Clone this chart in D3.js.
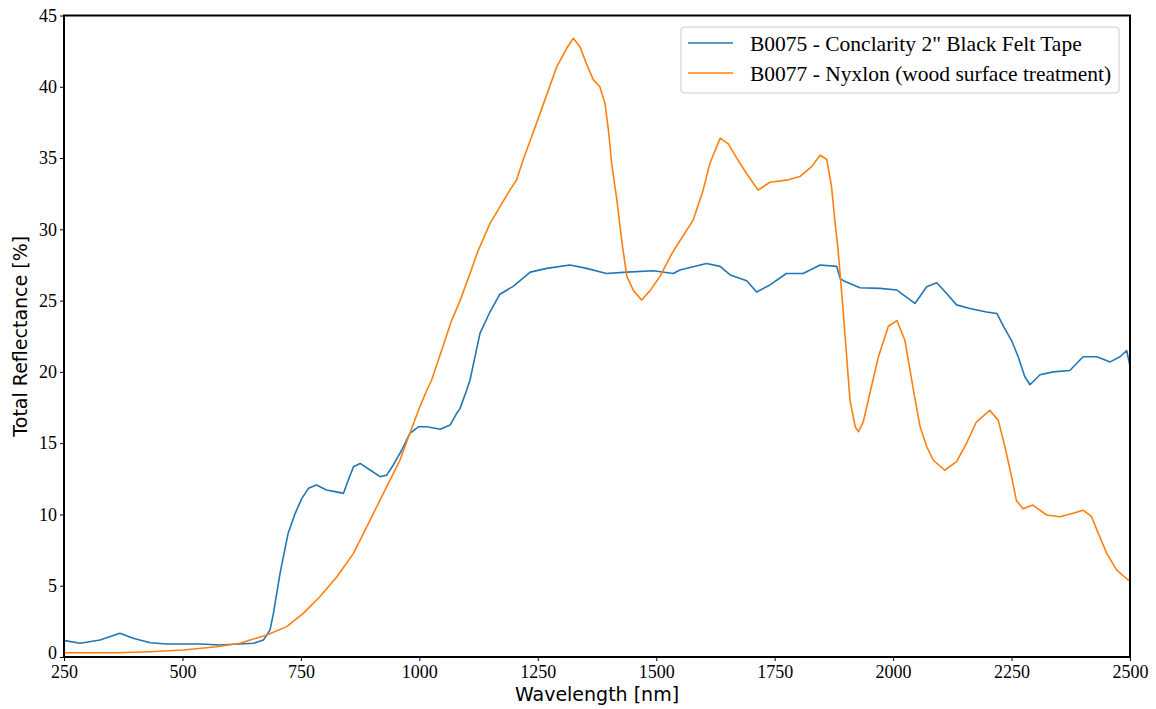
<!DOCTYPE html>
<html>
<head>
<meta charset="utf-8">
<script src="https://cdn.jsdelivr.net/npm/d3@7"></script>
<style>
  body { margin: 0; background: #fff; }
  .tick text { font-family: "Liberation Serif", "Times New Roman", serif; font-size: 18px; fill: #000; }
</style>
</head>
<body>
<div id="chartarea"></div>
<script>
// B0075 - Conclarity 2" Black Felt Tape
const blueWl = [252, 284, 326, 368, 396, 432, 467, 537, 579, 650, 671, 685, 692, 706, 723, 738, 752, 766, 783, 804, 822, 840, 850, 861, 875, 896, 917, 931, 945, 963, 980, 998, 1016, 1044, 1065, 1079, 1086, 1100, 1107, 1128, 1149, 1170, 1198, 1209, 1234, 1269, 1318, 1353, 1395, 1438, 1494, 1536, 1550, 1606, 1635, 1656, 1691, 1712, 1740, 1775, 1810, 1846, 1881, 1888, 1895, 1930, 1972, 2008, 2046, 2071, 2092, 2113, 2134, 2162, 2197, 2219, 2233, 2250, 2264, 2278, 2289, 2310, 2338, 2373, 2401, 2430, 2458, 2479, 2493, 2500];
const blueVal = [1.15, 0.96, 1.19, 1.66, 1.31, 1.0, 0.91, 0.91, 0.84, 0.96, 1.19, 1.9, 3.06, 5.87, 8.67, 10.08, 11.13, 11.83, 12.06, 11.71, 11.6, 11.48, 12.41, 13.35, 13.58, 13.12, 12.65, 12.76, 13.47, 14.52, 15.69, 16.15, 16.15, 15.97, 16.27, 17.1, 17.44, 18.73, 19.43, 22.7, 24.2, 25.45, 26.0, 26.3, 27.0, 27.26, 27.5, 27.26, 26.9, 27.0, 27.1, 26.9, 27.15, 27.6, 27.4, 26.8, 26.4, 25.6, 26.1, 26.9, 26.9, 27.5, 27.4, 26.56, 26.4, 25.9, 25.86, 25.74, 24.8, 25.97, 26.25, 25.5, 24.7, 24.45, 24.2, 24.1, 23.2, 22.2, 21.06, 19.66, 19.1, 19.8, 20.0, 20.1, 21.06, 21.06, 20.7, 21.06, 21.5, 20.4];

// B0077 - Nyxlon (wood surface treatment)
const orangeWl = [252, 361, 432, 502, 572, 621, 643, 678, 720, 755, 790, 826, 861, 896, 931, 959, 980, 1001, 1016, 1026, 1047, 1068, 1086, 1107, 1124, 1149, 1174, 1191, 1205, 1219, 1237, 1262, 1290, 1311, 1325, 1339, 1353, 1367, 1381, 1392, 1399, 1406, 1417, 1427, 1438, 1452, 1469, 1487, 1508, 1533, 1550, 1578, 1599, 1613, 1635, 1652, 1670, 1691, 1715, 1740, 1775, 1803, 1828, 1846, 1860, 1870, 1877, 1884, 1895, 1909, 1920, 1927, 1937, 1951, 1969, 1990, 2008, 2025, 2043, 2057, 2071, 2085, 2109, 2134, 2155, 2176, 2204, 2222, 2236, 2250, 2260, 2274, 2295, 2324, 2352, 2380, 2401, 2419, 2433, 2451, 2472, 2496, 2500];
const orangeVal = [0.3, 0.3, 0.37, 0.49, 0.72, 0.96, 1.19, 1.54, 2.13, 3.06, 4.23, 5.63, 7.27, 9.6, 11.94, 13.8, 15.69, 17.55, 18.73, 19.43, 21.5, 23.6, 25.0, 26.9, 28.5, 30.4, 31.8, 32.75, 33.45, 34.86, 36.5, 38.8, 41.4, 42.7, 43.4, 42.8, 41.6, 40.5, 40.0, 38.8, 37.0, 34.6, 32.05, 29.25, 26.7, 25.7, 25.04, 25.7, 26.7, 28.3, 29.2, 30.65, 32.75, 34.6, 36.4, 36.0, 35.0, 33.9, 32.75, 33.3, 33.45, 33.7, 34.4, 35.2, 34.9, 33.0, 30.65, 28.5, 24.1, 18.0, 16.15, 15.8, 16.5, 18.5, 21.06, 23.2, 23.6, 22.2, 18.7, 16.15, 14.75, 13.8, 13.1, 13.7, 15.0, 16.5, 17.3, 16.6, 14.75, 12.65, 11.0, 10.4, 10.66, 9.96, 9.84, 10.08, 10.3, 9.84, 8.67, 7.27, 6.1, 5.4, 5.5];

const xTicks = [250, 500, 750, 1000, 1250, 1500, 1750, 2000, 2250, 2500];
const yTicks = [0, 5, 10, 15, 20, 25, 30, 35, 40, 45];

const series = [
    { name: 'B0075 - Conclarity 2" Black Felt Tape', color: '#1f77b4', wl: blueWl, val: blueVal },
    { name: 'B0077 - Nyxlon (wood surface treatment)', color: '#ff7f0e', wl: orangeWl, val: orangeVal }
];

const margin = { top: 15.5, right: 26, bottom: 52, left: 64 };
const width = 1156 - margin.left - margin.right;
const height = 709 - margin.top - margin.bottom;

const svg = d3.select('#chartarea')
    .append('svg')
        .attr('width', 1156)
        .attr('height', 709);

const group = svg.append('g')
    .attr('transform', `translate(${margin.left}, ${margin.top})`);

const x = d3.scaleLinear().domain([250, 2500]).range([0, width]);
const y = d3.scaleLinear().domain([0, 45]).range([height, 0]);

const line = d3.line()
    .x(d => x(d[0]))
    .y(d => y(d[1]));

series.forEach(s => {
    group.append('path')
        .datum(s.wl.map((w, i) => [w, s.val[i]]))
        .attr('fill', 'none')
        .attr('stroke', s.color)
        .attr('stroke-width', 1.6)
        .attr('stroke-linejoin', 'round')
        .attr('d', line);
});

// axes
const xAxis = d3.axisBottom(x).tickValues(xTicks).tickSize(4).tickPadding(4).tickFormat(d3.format('d'));
group.append('g')
    .attr('class', 'x axis')
    .attr('transform', `translate(0, ${height})`)
    .call(xAxis);

const yAxis = d3.axisLeft(y).tickValues(yTicks).tickSize(4).tickPadding(3).tickFormat(d3.format('d'));
group.append('g')
    .attr('class', 'y axis')
    .call(yAxis);

// the 0 label sits a little above its tick so it clears the 250 label
group.selectAll('.y.axis .tick text').filter(d => d === 0).attr('dy', '0.1em');

group.selectAll('.axis .domain').remove();
group.selectAll('.axis line').attr('stroke', '#000').attr('stroke-width', 1);

// frame
group.append('rect')
    .attr('x', 0)
    .attr('y', 0)
    .attr('width', width)
    .attr('height', height)
    .attr('fill', 'none')
    .attr('stroke', '#000')
    .attr('stroke-width', 2);

// x label
group.append('text')
    .attr('x', width / 2)
    .attr('y', height + 44)
    .attr('font-family', 'DejaVu Sans, sans-serif')
    .attr('font-size', '19px')
    .attr('text-anchor', 'middle')
    .text('Wavelength [nm]');

// y label
group.append('text')
    .attr('transform', 'rotate(-90)')
    .attr('x', -height / 2)
    .attr('y', -37)
    .attr('font-family', 'DejaVu Sans, sans-serif')
    .attr('font-size', '19px')
    .attr('text-anchor', 'middle')
    .text('Total Reflectance [%]');

// legend
const legend = group.append('g')
    .attr('transform', `translate(${681 - margin.left}, ${27 - margin.top})`);

legend.append('rect')
    .attr('width', 438)
    .attr('height', 66)
    .attr('rx', 3)
    .attr('fill', '#fff')
    .attr('fill-opacity', 0.8)
    .attr('stroke', '#ccc')
    .attr('stroke-width', 1);

series.forEach((s, i) => {
    const ly = 16 + i * 30;
    legend.append('line')
        .attr('x1', 7)
        .attr('x2', 52)
        .attr('y1', ly)
        .attr('y2', ly)
        .attr('stroke', s.color)
        .attr('stroke-width', 1.6);
    legend.append('text')
        .attr('x', 69)
        .attr('y', ly)
        .attr('dy', '0.35em')
        .attr('font-family', 'Liberation Serif, Times New Roman, serif')
        .attr('font-size', '21.5px')
        .text(s.name);
});
</script>
</body>
</html>
